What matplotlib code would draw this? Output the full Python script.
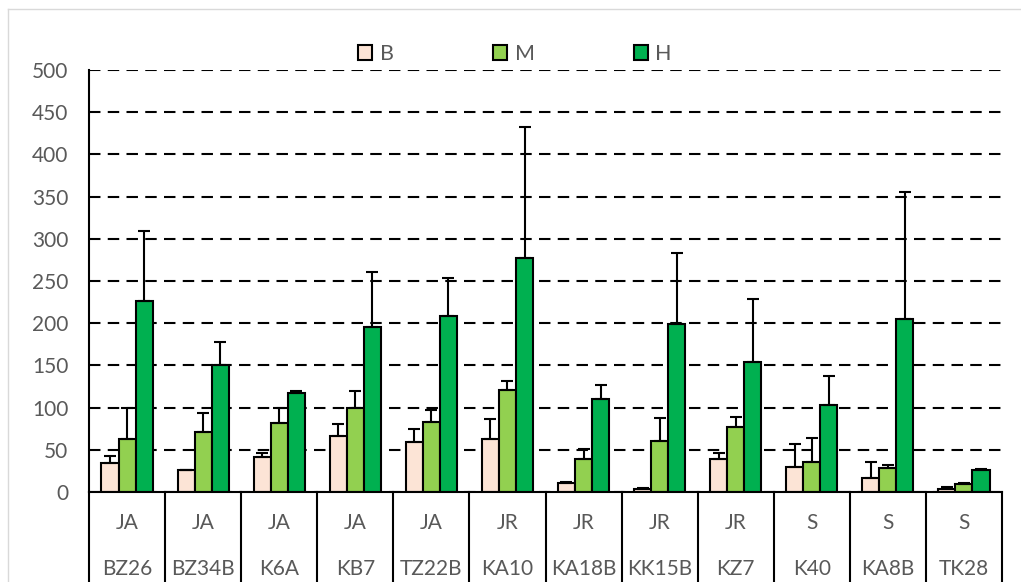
import matplotlib
matplotlib.use("Agg")
import matplotlib.pyplot as plt
import matplotlib.transforms as mtransforms
from matplotlib.patches import Patch
import numpy as np

plt.rcParams['font.family'] = ['Lato', 'DejaVu Sans']

groups = ["JA", "JA", "JA", "JA", "JA", "JR", "JR", "JR", "JR", "S", "S", "S"]
strains = ["BZ26", "BZ34B", "K6A", "KB7", "TZ22B", "KA10", "KA18B", "KK15B", "KZ7", "K40", "KA8B", "TK28"]
series_names = ["B", "M", "H"]

B_vals = [34, 26.5, 42, 66, 59, 63, 10.5, 3.5, 39.5, 29.5, 17, 3.5]
B_errs = [9, 0, 4, 14, 16, 24, 1, 1.5, 7, 27, 18, 2]
M_vals = [63, 71, 81.5, 100, 82.5, 120.5, 39, 60, 76.5, 35.5, 28.5, 10]
M_errs = [36, 23, 18, 20, 15, 11.5, 12.5, 28, 12, 28.5, 3, 1]
H_vals = [226, 150, 117.5, 195.5, 208, 277, 110.5, 198.5, 154, 102.5, 205, 25.5]
H_errs = [83, 28, 2.5, 65, 46, 155.5, 16.5, 85, 74.5, 35, 151, 1.5]

colors = ["#FCE4D6", "#92D050", "#00B050"]
text_color = "#595959"

fig = plt.figure(figsize=(10.21, 5.82), dpi=100)
ax = fig.add_axes([89/1021, 1 - 492/582, (1002-89)/1021, (492-70)/582])

x = np.arange(len(strains))
w = 0.224
vals = [B_vals, M_vals, H_vals]
errs = [B_errs, M_errs, H_errs]
for i, (v, e, c) in enumerate(zip(vals, errs, colors)):
    pos = x + (i - 1) * w
    ax.bar(pos, v, width=w, color=c, edgecolor="black", linewidth=1.5, zorder=3)
    ax.errorbar(pos, v, yerr=[np.zeros(len(v)), e], fmt='none', ecolor="black",
                elinewidth=1.5, capsize=4, capthick=1.5, zorder=4)

ax.set_xlim(-0.5, len(strains) - 0.5)
ax.set_ylim(0, 500)
ax.set_yticks(np.arange(0, 501, 50))
ax.yaxis.grid(True, linestyle=(0, (5.5, 3.5)), color="black", linewidth=1.5, zorder=1)
ax.set_axisbelow(True)
ax.tick_params(axis='y', length=0, pad=15, labelsize=15, labelcolor=text_color)
ax.tick_params(axis='x', length=0, labelbottom=False)
for s in ["top", "right"]:
    ax.spines[s].set_visible(False)
for s in ["left", "bottom"]:
    ax.spines[s].set_color("black")
    ax.spines[s].set_linewidth(1.5)
    ax.spines[s].set_zorder(5)

trans = mtransforms.blended_transform_factory(ax.transData, ax.transAxes)
for b in np.arange(-0.5, len(strains), 1.0):
    ax.plot([b, b], [0, -0.3], color="black", linewidth=1.5, transform=trans, clip_on=False)
for i in range(len(strains)):
    ax.text(x[i], -0.0735, groups[i], transform=trans, ha='center', va='center',
            fontsize=15, color=text_color)
    ax.text(x[i], -0.183, strains[i], transform=trans, ha='center', va='center',
            fontsize=15, color=text_color)

handles = [Patch(facecolor=c, edgecolor="black", linewidth=1.5) for c in colors]
fig.legend(handles, series_names, loc='center', bbox_to_anchor=(515/1021, 1 - 54/582),
           ncol=3, frameon=False, fontsize=15.5, handlelength=0.65, handleheight=0.65,
           handletextpad=0.35, columnspacing=4.6, labelcolor=text_color)

# chart area border
fig.add_artist(plt.Line2D([8/1021, 1.0], [1 - 9.3/582, 1 - 9.3/582], color="#D9D9D9", linewidth=1.0))
fig.add_artist(plt.Line2D([8/1021, 8/1021], [0, 1 - 9.3/582], color="#D9D9D9", linewidth=1.0))

fig.savefig("out.png", dpi=100)
